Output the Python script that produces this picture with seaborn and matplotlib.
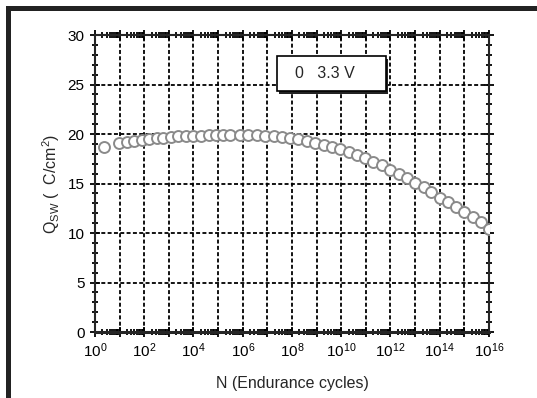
import numpy as np
import pandas as pd
import matplotlib
matplotlib.use("Agg")
import matplotlib.pyplot as plt
import matplotlib.ticker as mticker
from matplotlib.patches import Rectangle
import seaborn as sns

# log10 of endurance cycles
log_n = [0.35, 0.98, 1.29, 1.60, 1.90, 2.19, 2.51, 2.78, 3.09, 3.39, 3.69, 4.00,
         4.31, 4.61, 4.90, 5.20, 5.49, 5.89, 6.23, 6.57, 6.91, 7.25, 7.59, 7.93,
         8.26, 8.60, 8.94, 9.28, 9.62, 9.96, 10.30, 10.64, 10.98, 11.29, 11.65,
         11.99, 12.33, 12.67, 13.01, 13.35, 13.65, 14.00, 14.32, 14.67, 15.00,
         15.35, 15.68, 15.99]
q_sw = [18.7, 19.05, 19.15, 19.3, 19.4, 19.5, 19.55, 19.6, 19.7, 19.75, 19.8, 19.85,
        19.85, 19.9, 19.9, 19.9, 19.9, 19.9, 19.9, 19.9, 19.85, 19.8, 19.7, 19.6,
        19.45, 19.25, 19.1, 18.9, 18.7, 18.45, 18.2, 17.9, 17.55, 17.2, 16.85,
        16.4, 16.0, 15.55, 15.05, 14.6, 14.1, 13.55, 13.1, 12.6, 12.15,
        11.6, 11.1, 10.4]
y_ticks = [0, 5, 10, 15, 20, 25, 30]
x_decades = list(range(0, 17))
label_text = "0   3.3 V"

df = pd.DataFrame({"N": 10.0 ** np.array(log_n), "Q": q_sw})

sns.set_style("ticks")
plt.rcParams["font.family"] = ["Liberation Sans", "DejaVu Sans"]
plt.rcParams["mathtext.fontset"] = "custom"
plt.rcParams["mathtext.rm"] = "Liberation Sans"
plt.rcParams["mathtext.it"] = "Liberation Sans"

fig = plt.figure(figsize=(5.37, 3.98), dpi=100)
ax = fig.add_axes([0.1769, 0.1658, 0.7337, 0.7462])

sns.scatterplot(data=df, x="N", y="Q", ax=ax, marker="o", s=62,
                facecolor="white", edgecolor="#8a8a8a", linewidth=1.4, zorder=5)

ax.set_xscale("log")
ax.set_xlim(1, 1e16)
ax.set_ylim(0, 30)

ax.xaxis.set_major_locator(mticker.FixedLocator([10.0 ** k for k in x_decades]))
ax.xaxis.set_major_formatter(mticker.FixedFormatter(
    [r"$\mathregular{10^{%d}}$" % k if k % 2 == 0 else "" for k in x_decades]))
ax.xaxis.set_minor_locator(mticker.LogLocator(base=10, subs=np.arange(2, 10), numticks=200))
ax.xaxis.set_minor_formatter(mticker.NullFormatter())
ax.set_yticks(y_ticks)
ax.yaxis.set_minor_locator(mticker.MultipleLocator(1))

ax.grid(True, which="major", color="black", linestyle=(0, (2.2, 1.3)), linewidth=1.3)
ax.tick_params(which="both", direction="inout", top=True, right=True,
               colors="black", width=1.3)
ax.tick_params(which="major", length=7)
ax.tick_params(which="minor", length=4)
ax.tick_params(axis="x", which="major", labelsize=11, pad=3)
ax.tick_params(axis="y", which="major", labelsize=11, pad=4)
for side in ["left", "right", "top"]:
    ax.spines[side].set_linewidth(1.5)
ax.spines["bottom"].set_linewidth(2.2)

ax.set_xlabel("N (Endurance cycles)", fontsize=11.5, labelpad=12)
ax.set_ylabel(r"Q$_{\mathregular{SW}}$ (  C/cm$^{\mathregular{2}}$)", fontsize=11.5, labelpad=4)

# label box with a drop shadow
bx, by, bw, bh = 0.462, 0.81, 0.276, 0.118
ax.add_patch(Rectangle((bx + 0.006, by - 0.01), bw, bh, transform=ax.transAxes,
                       facecolor="#222222", edgecolor="none", zorder=8))
ax.add_patch(Rectangle((bx, by), bw, bh, transform=ax.transAxes,
                       facecolor="white", edgecolor="black", linewidth=1.2, zorder=9))
ax.text(bx + 0.045, by + bh / 2, label_text, transform=ax.transAxes,
        fontsize=11.5, va="center", ha="left", zorder=10)

# frame lines at the top and left edge of the figure
fig.add_artist(Rectangle((6 / 537, 0), 5 / 537, 1 - 6 / 398, transform=fig.transFigure,
                         facecolor="#222222", edgecolor="none"))
fig.add_artist(Rectangle((6 / 537, 1 - 11 / 398), 1 - 6 / 537, 5 / 398,
                         transform=fig.transFigure, facecolor="#222222", edgecolor="none"))

fig.savefig("out.png", dpi=100)
